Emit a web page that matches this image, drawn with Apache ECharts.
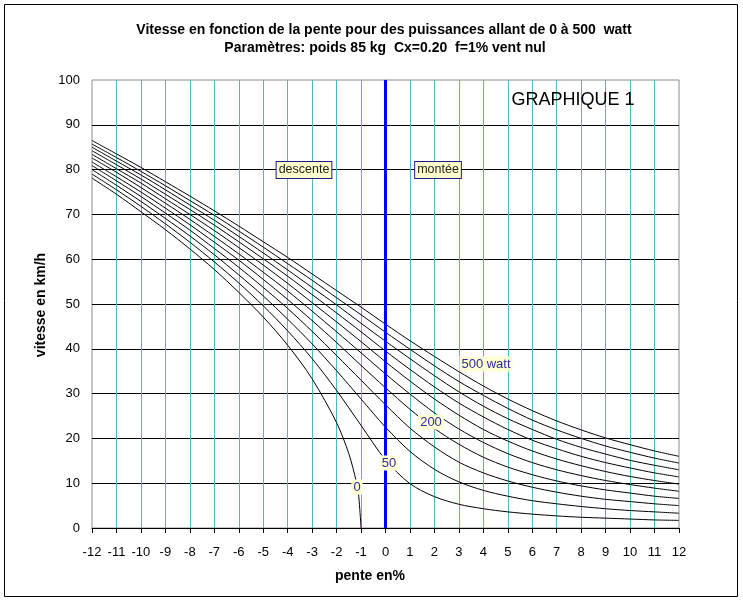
<!DOCTYPE html>
<html><head><meta charset="utf-8">
<script src="https://cdn.jsdelivr.net/npm/echarts@6/dist/echarts.min.js"></script>
<style>html,body{margin:0;padding:0;background:#fff}#c{width:743px;height:602px}</style>
</head><body><div id="c"></div>
<script>
// pente (%) for each sample
const slopes = [-12,-11,-10,-9,-8,-7,-6,-5,-4,-3,-2,-1,0,1,2,3,4,5,6,7,8,9,10,11,12];
const slopesZero = [-12,-11,-10,-9,-8,-7,-6,-5,-4,-3,-2,-1.5,-1.2,-1.1,-1];
// vitesse (km/h) for each power
const w0   = [78.1,74.5,70.6,66.6,62.3,57.7,52.6,47.1,40.8,33.3,23.5,16.6,10.5,7.4,0];
const w50  = [79.0,75.5,71.8,67.9,63.8,59.4,54.7,49.6,44.0,37.8,30.7,22.9,15.2,9.9,7.0,5.3,4.3,3.6,3.1,2.7,2.4,2.2,2.0,1.8,1.7];
const w100 = [80.0,76.5,72.9,69.1,65.2,61.0,56.5,51.8,46.6,41.1,35.1,28.8,22.5,17.1,13.1,10.3,8.4,7.1,6.1,5.4,4.8,4.3,3.9,3.6,3.3];
const w150 = [80.9,77.5,74.0,70.3,66.5,62.4,58.2,53.7,49.0,43.9,38.5,33.0,27.5,22.3,18.1,14.7,12.3,10.5,9.1,8.0,7.1,6.4,5.9,5.4,5.0];
const w200 = [81.7,78.4,75.0,71.4,67.7,63.8,59.8,55.5,51.0,46.3,41.4,36.3,31.3,26.5,22.2,18.7,15.8,13.6,11.9,10.5,9.4,8.5,7.8,7.1,6.6];
const w250 = [82.6,79.4,76.0,72.5,68.9,65.1,61.2,57.1,52.9,48.4,43.8,39.1,34.4,29.9,25.7,22.1,19.1,16.6,14.6,13.0,11.7,10.6,9.7,8.9,8.2];
const w300 = [83.4,80.2,77.0,73.5,70.0,66.4,62.6,58.7,54.6,50.3,46.0,41.6,37.1,32.8,28.8,25.2,22.0,19.4,17.2,15.4,13.9,12.6,11.5,10.6,9.8];
const w350 = [84.2,81.1,77.9,74.5,71.1,67.6,63.9,60.1,56.2,52.1,48.0,43.8,39.5,35.4,31.5,27.9,24.8,22.0,19.6,17.7,16.0,14.6,13.4,12.3,11.4];
const w400 = [85.0,81.9,78.8,75.5,72.1,68.7,65.1,61.4,57.6,53.7,49.8,45.7,41.7,37.8,34.0,30.4,27.2,24.4,22.0,19.8,18.0,16.5,15.1,14.0,13.0];
const w450 = [85.7,82.7,79.6,76.4,73.1,69.8,66.3,62.7,59.0,55.3,51.4,47.6,43.7,39.9,36.2,32.7,29.6,26.7,24.1,21.9,20.0,18.3,16.9,15.6,14.5];
const w500 = [86.5,83.5,80.5,77.3,74.1,70.8,67.4,63.9,60.4,56.7,53.0,49.3,45.5,41.8,38.3,34.9,31.7,28.8,26.2,23.9,21.9,20.1,18.6,17.2,16.0];
const powerNames = ['0 W','50 W','100 W','150 W','200 W','250 W','300 W','350 W','400 W','450 W','500 W'];
const curves = [w0,w50,w100,w150,w200,w250,w300,w350,w400,w450,w500];

const FONT = '"Liberation Sans", Arial, sans-serif';
const chart = echarts.init(document.getElementById('c'), null, {renderer:'canvas'});

const series = curves.map((vals, i) => {
  const xs = i === 0 ? slopesZero : slopes;
  return {
    name: powerNames[i], type: 'line', smooth: 0.3,
    symbol: 'none', silent: true, z: 3,
    lineStyle: {color: '#000', width: 1},
    data: vals.map((v, j) => [xs[j], v])
  };
});
series.push({
  name: 'zero', type: 'line', symbol: 'none', silent: true, z: 4,
  lineStyle: {color: '#0000ff', width: 3},
  data: [[0, 0], [0, 100]]
});

const lblStyle = (t, x, y) => ({
  type: 'text', x: x, y: y, z: 10,
  style: {text: t, fontSize: 13, fontFamily: FONT, fill: '#2b2b9e', align: 'center', verticalAlign: 'middle',
          backgroundColor: '#ffffd6', padding: [1, 2]}
});
const boxStyle = (t, x, y) => ({
  type: 'text', x: x, y: y, z: 10,
  style: {text: t, fontSize: 12.5, fontFamily: FONT, fill: '#222', align: 'center', verticalAlign: 'middle',
          backgroundColor: '#ffffcc', borderColor: '#1c1c8a', borderWidth: 1, padding: [2, 2, 1, 2]}
});
const bold = (t, x, y, extra) => Object.assign({type: 'text', x: x, y: y,
  style: {text: t, fontSize: 14, fontWeight: 'bold', fontFamily: FONT, fill: '#000', align: 'center', verticalAlign: 'middle'}}, extra || {});

chart.setOption({
  animation: false,
  backgroundColor: '#fff',
  grid: {left: 92, right: 64, top: 80, bottom: 74, show: true, borderColor: '#8c8c8c', borderWidth: 1, backgroundColor: 'transparent'},
  xAxis: {
    type: 'value', min: -12, max: 12, interval: 1,
    axisLine: {show: true, onZero: false, lineStyle: {color: '#000', width: 1}},
    axisTick: {show: true, inside: false, length: 5, lineStyle: {color: '#000'}},
    axisLabel: {color: '#000', fontSize: 13, fontFamily: FONT, margin: 18},
    splitLine: {show: true, showMinLine: false, showMaxLine: false, lineStyle: {color: '#4db8c2', width: 1}}
  },
  yAxis: {
    type: 'value', min: 0, max: 100, interval: 10,
    axisLine: {show: true, lineStyle: {color: '#8c8c8c', width: 1}},
    axisTick: {show: false},
    axisLabel: {color: '#000', fontSize: 13, fontFamily: FONT, margin: 12},
    splitLine: {show: true, showMinLine: false, showMaxLine: false, lineStyle: {color: '#000', width: 1}}
  },
  series: series,
  graphic: [
    {type: 'rect', z: 0, shape: {x: 4.5, y: 4.5, width: 733, height: 592}, style: {fill: 'none', stroke: '#000', lineWidth: 1}},
    bold('Vitesse en fonction de la pente pour des puissances allant de 0 à 500  watt', 384, 30),
    bold('Paramètres: poids 85 kg  Cx=0.20  f=1% vent nul', 385, 48),
    bold('vitesse en km/h', 41, 305, {rotation: Math.PI / 2}),
    bold('pente en%', 370, 576),
    {type: 'text', x: 573, y: 100, z: 10, style: {text: 'GRAPHIQUE 1', fontSize: 18, fontFamily: FONT, fill: '#000', align: 'center', verticalAlign: 'middle'}},
    boxStyle('descente', 304, 170),
    boxStyle('montée', 438, 170),
    lblStyle('500 watt', 486, 364),
    lblStyle('200', 431, 422),
    lblStyle('50', 389, 463),
    lblStyle('0', 357, 487)
  ]
});
</script></body></html>
